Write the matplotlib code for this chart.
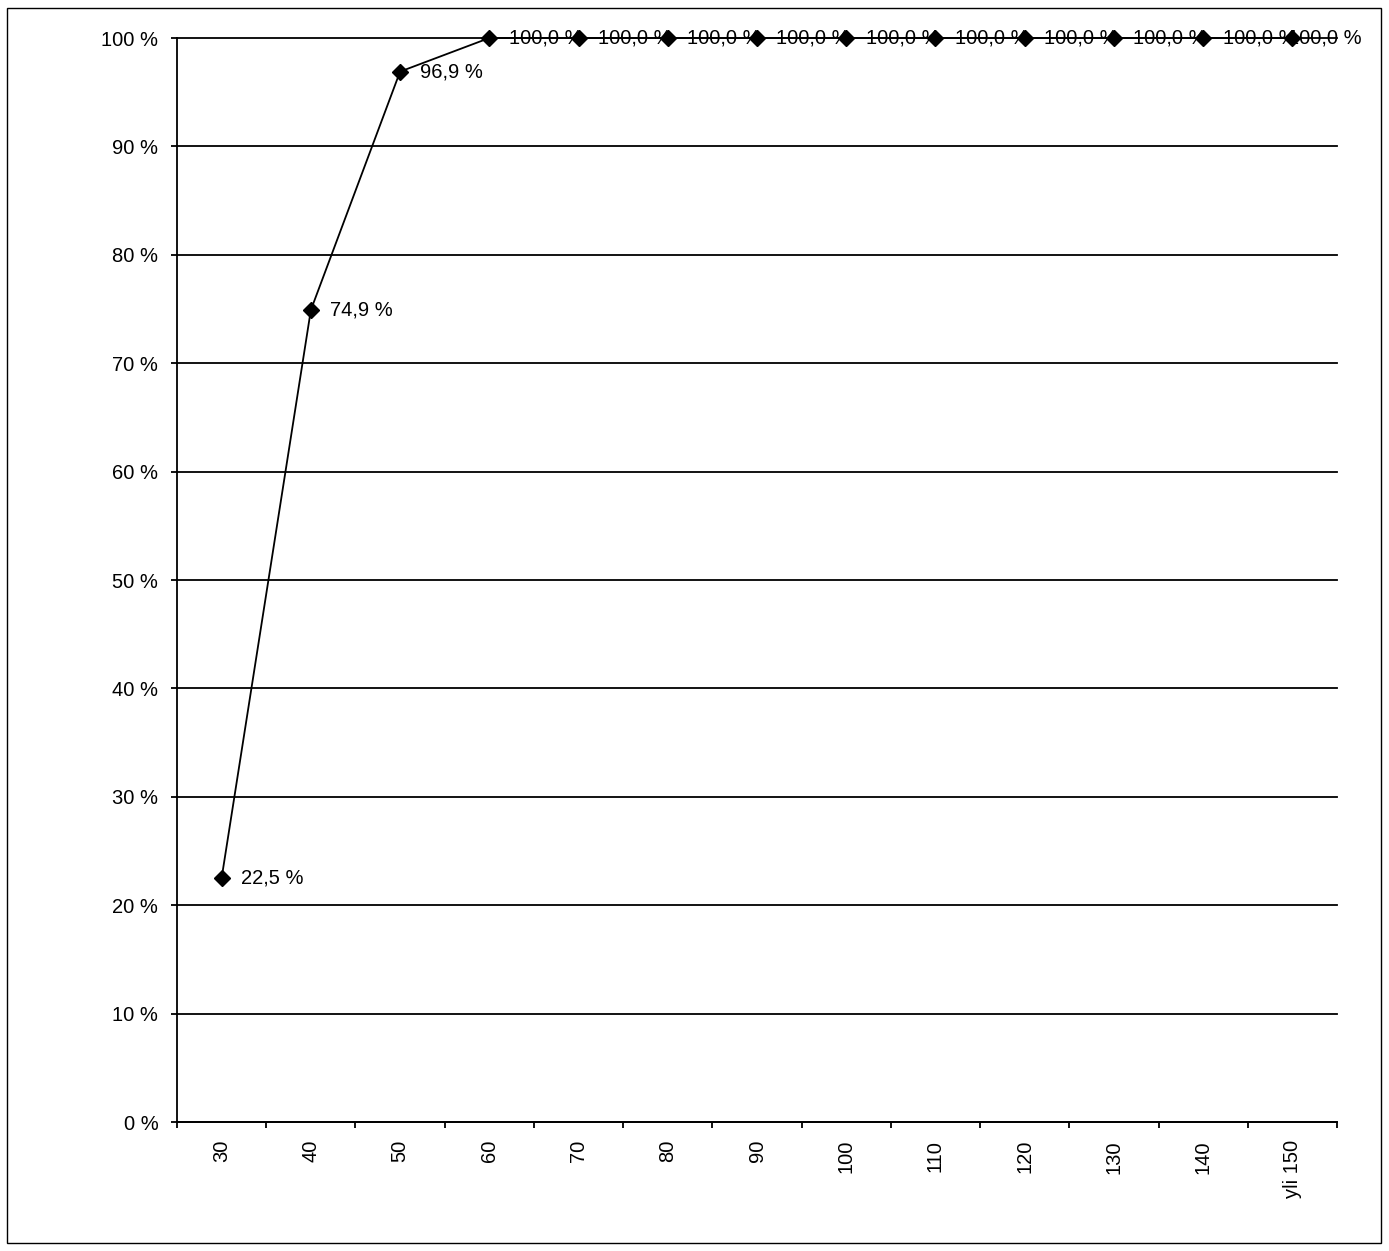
import matplotlib
matplotlib.use("Agg")
import matplotlib.pyplot as plt
import matplotlib.patches as patches
import numpy as np

# cumulative share per class
categories = ["30", "40", "50", "60", "70", "80", "90", "100", "110", "120", "130", "140", "yli 150"]
values = [22.5, 74.9, 96.9, 100.0, 100.0, 100.0, 100.0, 100.0, 100.0, 100.0, 100.0, 100.0, 100.0]
yticks = [0, 10, 20, 30, 40, 50, 60, 70, 80, 90, 100]

plt.rcParams['font.family'] = ['Liberation Sans', 'DejaVu Sans']
fs = 14.5

fig = plt.figure(figsize=(13.89, 12.51), dpi=100)
ax = fig.add_axes([177/1389, 1 - 1122/1251, (1337-177)/1389, (1122-38)/1251])

# outer frame like the chart area border
fig.patches.append(patches.Rectangle((7/1389, 1 - 1243/1251), (1381-7)/1389, (1243-8)/1251,
                                     transform=fig.transFigure, fill=False, edgecolor='black', linewidth=1))

x = np.arange(len(categories))
ax.plot(x, values, color='black', linewidth=1.3, marker='D', markersize=8, zorder=3, clip_on=False)

for i, (xi, v) in enumerate(zip(x, values)):
    # last label gets pushed back inside the chart area, like excel does
    dx = 14 if i < len(values) - 1 else -3
    ax.annotate(f"{v:.1f} %".replace('.', ','), (xi, v), xytext=(dx, 0), textcoords='offset points',
                ha='left', va='center', fontsize=fs, zorder=2)

ax.set_xlim(-0.5, len(categories) - 0.5)
ax.set_ylim(0, 100)
ax.set_yticks(yticks)
ax.set_yticklabels([f"{t} %" for t in yticks], fontsize=fs)
ax.yaxis.grid(True, color='black', linewidth=1.3)
for gl in ax.yaxis.get_gridlines():
    gl.set_clip_on(False)
ax.set_axisbelow(True)

ax.set_xticks(x)
ax.set_xticklabels(categories, rotation=90, fontsize=fs)
ax.set_xticks(np.arange(-0.5, len(categories)), minor=True)
ax.tick_params(axis='x', which='major', length=0, pad=13)
ax.tick_params(axis='x', which='minor', length=4.5, width=1.3, direction='out')
ax.tick_params(axis='y', length=4.5, width=1.3, direction='out', pad=9)

ax.spines['top'].set_visible(False)
ax.spines['right'].set_visible(False)
ax.spines['left'].set_linewidth(1.3)
ax.spines['bottom'].set_linewidth(1.3)

fig.savefig("out.png", dpi=100)
